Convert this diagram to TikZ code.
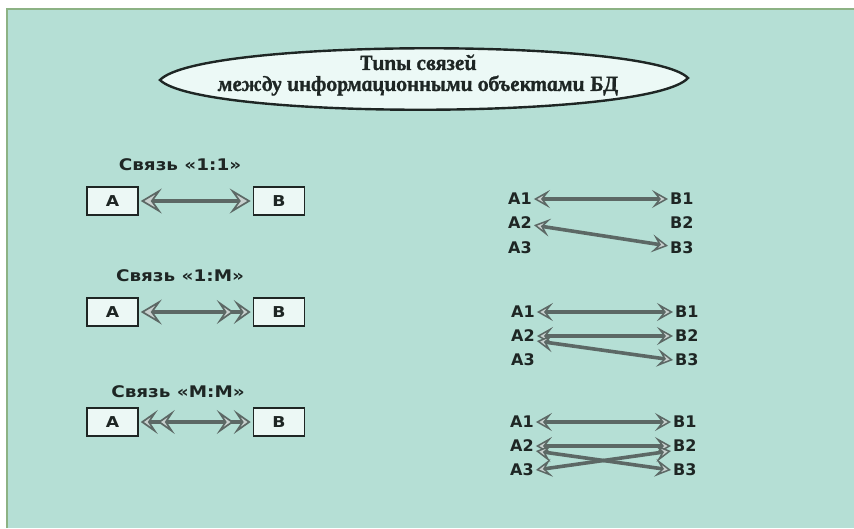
\documentclass[tikz,border=0pt]{standalone}
\usepackage{fontspec}
\setmainfont{DejaVu Sans}
\newfontfamily\widesans{DejaVu Sans}[FakeStretch=1.15]
\newfontfamily\titlefont{Liberation Serif}[BoldItalicFeatures={FakeSlant=-0.16,FakeBold=1.2}]
\usetikzlibrary{arrows.meta}
\definecolor{panel}{RGB}{181,223,213}
\definecolor{paneledge}{RGB}{140,178,132}
\definecolor{lensfill}{RGB}{236,249,246}
\definecolor{inkdark}{RGB}{30,38,36}
\definecolor{boxfill}{RGB}{236,248,245}
\definecolor{linkdark}{RGB}{92,104,101}
\definecolor{headfill}{RGB}{200,208,206}
\tikzset{
  hb/.tip={Stealth[length=21pt,width=25pt,inset=9pt,fill=headfill,line width=1.7pt]},
  hd/.tip={Stealth[length=17pt,width=24pt,inset=8pt,fill=headfill,line width=1.7pt]},
  hs/.tip={Stealth[length=16pt,width=18pt,inset=7pt,fill=headfill,line width=1.5pt]},
  bigtip/.style={arrows={hb[]-hb[]}},
  bigtipm/.style={arrows={hb[]-hd[]hd[]}},
  bigtipmm/.style={arrows={hd[]hd[]-hd[]hd[]}},
  smalltip/.style={arrows={hs[]-hs[]}},
  conn/.style={draw=linkdark, line width=4.6pt},
  sconn/.style={draw=linkdark, line width=3.6pt},
  caption/.style={font=\widesans\bfseries\fontsize{16}{18}\selectfont, text=inkdark},
  entity/.style={draw=inkdark, line width=1.6pt, fill=boxfill,
    minimum width=51pt, minimum height=28pt, inner sep=0pt,
    font=\widesans\bfseries\fontsize{15}{17}\selectfont, text=inkdark},
  item/.style={anchor=west, inner sep=2pt,
    font=\bfseries\fontsize{16}{18}\selectfont, text=inkdark},
  titletext/.style={align=center, text=inkdark,
    font=\titlefont\bfseries\itshape\fontsize{21.5}{21}\selectfont}
}
\begin{document}
\begin{tikzpicture}[x=1pt,y=-1pt]
\useasboundingbox (0,0) rectangle (854,528);
\fill[white] (0,0) rectangle (854,528);
\fill[panel] (7,9) rectangle (854,528);
\draw[paneledge, line width=1.5pt] (7,528) -- (7,9) -- (854,9);

% title lens
\draw[inkdark, line width=2.4pt, fill=lensfill]
  (160,80) .. controls (200,38) and (650,38) .. (688,78)
  .. controls (650,120) and (200,120) .. (160,80) -- cycle;
\node[titletext] (title) at (419,75) {Типы связей\\между информационными объектами БД};

% left column: relation kinds
\node[caption] (cap1) at (180,165) {Связь «1:1»};
\node[entity] (a1) at (112.5,201) {A};
\node[entity] (b1) at (279,201) {B};
\draw[conn, bigtip, shorten <=2pt, shorten >=2pt] (a1) -- (b1);

\node[caption] (cap2) at (180,276) {Связь «1:M»};
\node[entity] (a2) at (112.5,312) {A};
\node[entity] (b2) at (279,312) {B};
\draw[conn, bigtipm, shorten <=2pt, shorten >=2pt] (a2) -- (b2);

\node[caption] (cap3) at (178,392) {Связь «M:M»};
\node[entity] (a3) at (112.5,422) {A};
\node[entity] (b3) at (279,422) {B};
\draw[conn, bigtipmm, shorten <=2pt, shorten >=2pt] (a3) -- (b3);

% right column: instance links, 1:1
\node[item] (p1) at (506,199) {A1};
\node[item] (p2) at (506,223) {A2};
\node[item] (p3) at (506,248) {A3};
\node[item] (q1) at (668,199) {B1};
\node[item] (q2) at (668,223) {B2};
\node[item] (q3) at (668,248) {B3};
\draw[sconn, smalltip] (p1) -- (q1);
\draw[sconn, smalltip] (p2) -- (q3);

% 1:M
\node[item] (s1) at (509,312) {A1};
\node[item] (s2) at (509,336) {A2};
\node[item] (s3) at (509,360) {A3};
\node[item] (t1) at (673,312) {B1};
\node[item] (t2) at (673,336) {B2};
\node[item] (t3) at (673,360) {B3};
\draw[sconn, smalltip] (s1) -- (t1);
\draw[sconn, smalltip] (s2) -- (t2);
\draw[sconn, smalltip] ([yshift=-5pt]s2.east) -- (t3.west);

% M:M
\node[item] (u1) at (508,422) {A1};
\node[item] (u2) at (508,446) {A2};
\node[item] (u3) at (508,470) {A3};
\node[item] (v1) at (671,422) {B1};
\node[item] (v2) at (671,446) {B2};
\node[item] (v3) at (671,470) {B3};
\draw[sconn, smalltip] (u1) -- (v1);
\draw[sconn, smalltip] (u2) -- (v2);
\draw[sconn, smalltip] ([yshift=-5pt]u2.east) -- (v3.west);
\draw[sconn, smalltip] (u3.east) -- ([yshift=-5pt]v2.west);
\end{tikzpicture}
\end{document}
